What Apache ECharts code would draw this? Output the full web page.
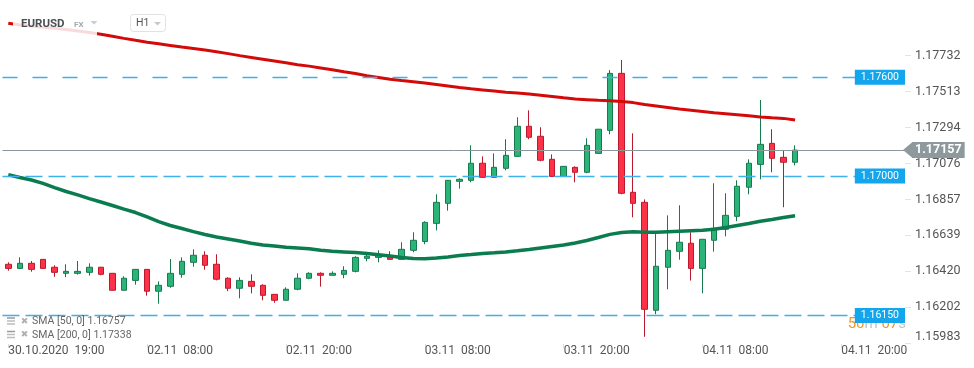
<!DOCTYPE html>
<html><head><meta charset="utf-8">
<script src="https://cdn.jsdelivr.net/npm/echarts@6/dist/echarts.min.js"></script>
<style>html,body{margin:0;padding:0;background:#fff}#c{width:974px;height:368px}</style>
</head><body><div id="c"></div>
<script>
// ---- data ----
const sessions = [['30.10',19,21],['01.11',23,23],['02.11',0,23],['03.11',0,23],['04.11',0,23],['05.11',0,1]];
const categories = [];
sessions.forEach(([d,a,b]) => { for (let h=a; h<=b; h++) categories.push(d + ' ' + String(h).padStart(2,'0') + ':00'); });

const xTickIndices = [0,12,24,36,48,60,72];
const xTickLabels = ['30.10.2020  19:00','02.11  08:00','02.11  20:00','03.11  08:00','03.11  20:00','04.11  08:00','04.11  20:00'];
const yTicks = [1.15983,1.16202,1.16420,1.16639,1.16857,1.17076,1.17294,1.17513,1.17732];

const open = [1.16462,1.16437,1.16468,1.16492,1.16444,1.16407,1.16407,1.16413,1.16444,1.16407,
 1.16304,1.16364,1.16431,1.16298,1.16328,1.16401,1.16474,1.16517,1.16462,1.16377,
 1.16316,1.16358,1.16334,1.16279,1.16243,1.16310,1.16377,1.16407,1.16395,1.16401,
 1.16419,1.16498,1.16504,1.16504,1.16492,1.16547,1.16601,1.16711,1.16833,1.16967,
 1.16973,1.17077,1.16991,1.17046,1.17119,1.17302,1.17241,1.17101,1.16997,1.17052,
 1.17022,1.17137,1.17277,1.17624,1.16900,1.16839,1.16182,1.16444,1.16541,1.16590,
 1.16437,1.16608,1.16675,1.16754,1.16931,1.17070,1.17198,1.17113,1.17083];
const close = [1.16437,1.16468,1.16431,1.16437,1.16413,1.16419,1.16419,1.16444,1.16401,1.16304,
 1.16377,1.16431,1.16298,1.16334,1.16407,1.16480,1.16517,1.16456,1.16371,1.16316,
 1.16364,1.16328,1.16273,1.16243,1.16310,1.16377,1.16407,1.16395,1.16407,1.16425,
 1.16504,1.16511,1.16517,1.16492,1.16553,1.16608,1.16717,1.16839,1.16973,1.16979,
 1.17077,1.16991,1.17052,1.17125,1.17302,1.17235,1.17095,1.16997,1.17058,1.17022,
 1.17186,1.17284,1.17624,1.16894,1.16833,1.16188,1.16450,1.16547,1.16596,1.16437,
 1.16614,1.16681,1.16760,1.16937,1.17077,1.17192,1.17107,1.17083,1.17157];
const low = [1.16423,1.16435,1.16417,1.16436,1.16386,1.16383,1.16399,1.16393,1.16395,1.16302,
 1.16302,1.16338,1.16271,1.16222,1.16319,1.16380,1.16447,1.16429,1.16364,1.16298,
 1.16255,1.16285,1.16243,1.16228,1.16242,1.16304,1.16371,1.16326,1.16394,1.16377,
 1.16413,1.16480,1.16474,1.16491,1.16491,1.16535,1.16584,1.16668,1.16788,1.16922,
 1.16961,1.16990,1.16990,1.17034,1.17118,1.17223,1.17089,1.16996,1.16996,1.16961,
 1.17016,1.17136,1.17253,1.16888,1.16748,1.16021,1.16158,1.16310,1.16490,1.16363,
 1.16285,1.16539,1.16632,1.16724,1.16888,1.16979,1.17022,1.16809,1.17064];
const high = [1.16474,1.16504,1.16482,1.16494,1.16456,1.16462,1.16482,1.16468,1.16446,1.16409,
 1.16389,1.16433,1.16433,1.16358,1.16494,1.16504,1.16553,1.16541,1.16523,1.16383,
 1.16383,1.16401,1.16340,1.16281,1.16322,1.16407,1.16413,1.16413,1.16419,1.16450,
 1.16511,1.16523,1.16547,1.16541,1.16596,1.16657,1.16724,1.16888,1.16975,1.16985,
 1.17186,1.17119,1.17137,1.17223,1.17357,1.17399,1.17296,1.17131,1.17060,1.17058,
 1.17229,1.17285,1.17644,1.17705,1.17259,1.16857,1.16651,1.16760,1.16821,1.16657,
 1.16616,1.16955,1.16894,1.16973,1.17101,1.17462,1.17284,1.17156,1.17186];

const sma50 = [1.17007,1.16990,1.16975,1.16954,1.16929,1.16905,1.16884,1.16862,1.16841,1.16820,
 1.16798,1.16777,1.16750,1.16722,1.16698,1.16680,1.16661,1.16643,1.16628,1.16616,
 1.16604,1.16590,1.16579,1.16573,1.16565,1.16561,1.16557,1.16547,1.16541,1.16537,
 1.16533,1.16528,1.16520,1.16512,1.16503,1.16497,1.16495,1.16500,1.16507,1.16515,
 1.16521,1.16528,1.16532,1.16537,1.16544,1.16552,1.16561,1.16570,1.16579,1.16592,
 1.16607,1.16625,1.16644,1.16656,1.16660,1.16657,1.16657,1.16660,1.16663,1.16666,
 1.16669,1.16675,1.16686,1.16698,1.16710,1.16724,1.16735,1.16747,1.16757];
const sma200 = [1.17929,1.17918,1.17912,1.17905,1.17898,1.17891,1.17882,1.17873,1.17862,1.17850,
 1.17837,1.17825,1.17814,1.17804,1.17794,1.17784,1.17775,1.17766,1.17756,1.17744,
 1.17732,1.17721,1.17710,1.17699,1.17688,1.17677,1.17668,1.17657,1.17646,1.17634,
 1.17623,1.17610,1.17599,1.17588,1.17580,1.17573,1.17565,1.17556,1.17547,1.17538,
 1.17530,1.17523,1.17516,1.17509,1.17504,1.17498,1.17491,1.17483,1.17475,1.17468,
 1.17464,1.17460,1.17457,1.17453,1.17446,1.17434,1.17425,1.17416,1.17407,1.17400,
 1.17392,1.17384,1.17378,1.17372,1.17366,1.17359,1.17354,1.17350,1.17340];

const levelLines = [1.17600, 1.17000, 1.16150];
const levelDash = [[15,15],[17,6],[17,6]];
const lastPrice = 1.17157;
const legendRows = ['SMA [50, 0] 1.16757', 'SMA [200, 0] 1.17338'];
const symbolText = 'EURUSD';
const timerParts = ['50','m ','07','s'];

// ---- chart ----
const FONT = 'Roboto';
const candleData = open.map((o,i) => [o, close[i], low[i], high[i]]);
const chart = echarts.init(document.getElementById('c'), null, {renderer:'canvas'});

const levelMarks = levelLines.map((v,i) => ({
  yAxis: v,
  lineStyle: {color:'#3eb0ea', type: levelDash[i], width:1.3},
  label: {show:true, position:'insideEnd', distance:0, formatter: v.toFixed(5),
    color:'#fff', backgroundColor:'#14a6ec', fontSize:10.5, fontFamily:FONT,
    padding:[2,6,1,6], lineHeight:12}
}));
levelMarks.push({
  yAxis: lastPrice,
  lineStyle: {color:'#8c979b', type:'solid', width:1},
  label: {show:true, position:'end', distance:7, formatter: lastPrice.toFixed(5),
    color:'#fff', backgroundColor:'#8e999e', fontSize:12.5, fontWeight:'bold', fontFamily:FONT,
    padding:[2,3,1,3], lineHeight:13}
});

chart.setOption({
  animation:false,
  backgroundColor:'#fff',
  grid:{left:2.5, right:69, top:0, bottom:24, containLabel:false, outerBoundsMode:'none'},
  xAxis:{
    type:'category', data:categories, boundaryGap:true,
    axisLine:{show:false},
    axisTick:{show:true, alignWithLabel:true, length:4, interval:(i)=>xTickIndices.includes(i), lineStyle:{color:'#dcdcdc'}},
    axisLabel:{interval:(i)=>xTickIndices.includes(i), align:'left', margin:1, color:'#555', fontSize:12, fontFamily:FONT,
      formatter:(val, idx)=>{ const k = xTickIndices.indexOf(idx); return k>=0 ? xTickLabels[k] : ''; }},
    splitLine:{show:false}
  },
  yAxis:{
    type:'value', position:'right', min:1.159768, max:1.180705, scale:true,
    axisLine:{show:false},
    axisTick:{show:true, length:6, customValues:yTicks, lineStyle:{color:'#e3e3e3'}},
    axisLabel:{customValues:yTicks, margin:10, color:'#555', fontSize:12.5, fontFamily:FONT,
      formatter:(v)=> Math.abs(v-yTicks[0])<1e-7 ? '{low|'+v.toFixed(5)+'}' : v.toFixed(5),
      rich:{low:{padding:[0,0,12,0], color:'#555', fontSize:12.5, fontFamily:FONT}}},
    splitLine:{show:false}
  },
  series:[
    {
      type:'candlestick', data:candleData, barWidth:6, z:2,
      itemStyle:{color:'#2bb478', color0:'#fd3148', borderColor:'#177a4e', borderColor0:'#bb1a2e', borderWidth:1},
      markLine:{symbol:['none','none'], silent:true, animation:false, precision:5, z:5, data:levelMarks}
    },
    {type:'line', data:sma200, showSymbol:false, smooth:false, z:3, lineStyle:{color:'#d40a0a', width:3}},
    {type:'line', data:sma50, showSymbol:false, smooth:false, z:3, lineStyle:{color:'#0b7c50', width:3.5}}
  ]
});

const yLast = chart.convertToPixel({yAxisIndex:0}, lastPrice);
const yLow = chart.convertToPixel({yAxisIndex:0}, levelLines[2]);

const g = [];
// header panel
g.push({type:'rect', z:10, shape:{x:13,y:12,width:84,height:24}, style:{fill:'rgba(255,255,255,0.85)'}});
g.push({type:'text', z:11, style:{text:symbolText, x:21, y:24, font:'bold 11.5px Roboto', fill:'#4a4f55', verticalAlign:'middle'}});
g.push({type:'text', z:11, style:{text:'FX', x:74, y:24.5, font:'bold 8px Roboto', fill:'#a0aab0', verticalAlign:'middle'}});
g.push({type:'polygon', z:11, shape:{points:[[90.5,21],[97.5,21],[94,24.5]]}, style:{fill:'#c8cdd0'}});
g.push({type:'rect', z:11, shape:{x:130.5,y:14.5,width:35,height:17,r:3}, style:{fill:'#fff', stroke:'#e2e2e2', lineWidth:1}});
g.push({type:'text', z:12, style:{text:'H1', x:136, y:23.5, font:'10.5px Roboto', fill:'#555', verticalAlign:'middle'}});
g.push({type:'polygon', z:12, shape:{points:[[154,22],[161,22],[157.5,25.5]]}, style:{fill:'#c8c8c8'}});
// legend rows
legendRows.forEach((t,i) => {
  const cy = 321.5 + i*13.5;
  [-3.5,-0.5,2.5].forEach((dy,j) => g.push({type:'rect', z:11, shape:{x:7,y:cy+dy-0.75,width:8,height:1.5}, style:{fill: j===0?'#9a9a9a':'#bdbdbd'}}));
  g.push({type:'text', z:11, style:{text:'\u2716', x:24.5, y:cy, font:'9px "DejaVu Sans"', fill:'#b0b0b0', align:'center', verticalAlign:'middle'}});
  g.push({type:'text', z:11, style:{text:t, x:32, y:cy, font:'10.5px Roboto', fill:'#666', verticalAlign:'middle'}});
});
// timer under the low level tag
g.push({type:'text', z:1, style:{
  text:'{o|'+timerParts[0]+'}{s|'+timerParts[1]+'}{o|'+timerParts[2]+'}{s|'+timerParts[3]+'}',
  x:906, y:yLow+8.5, align:'right', verticalAlign:'middle',
  rich:{o:{fill:'#f7941d', fontSize:15, fontFamily:FONT}, s:{fill:'#c4c4c4', fontSize:15, fontFamily:FONT}}
}});
// price tag arrow
g.push({type:'polygon', z:20, shape:{points:[[903,yLast],[912.5,yLast-8],[912.5,yLast+8]]}, style:{fill:'#8e999e'}});
chart.setOption({graphic:g});
</script>
</body></html>
